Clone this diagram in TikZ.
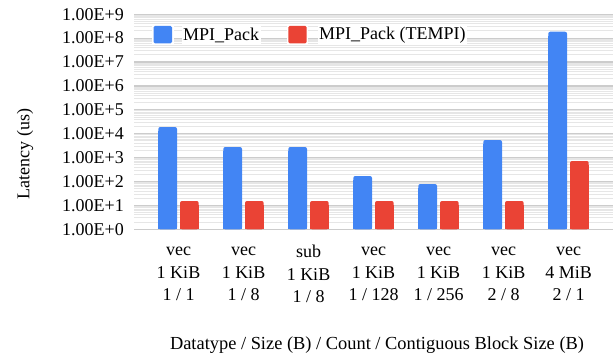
\documentclass[tikz,border=0pt]{standalone}
\usepackage{fontspec}
\setmainfont{Liberation Serif}
\definecolor{gblue}{HTML}{4285F4}
\definecolor{gred}{HTML}{EA4335}
\definecolor{majgrid}{HTML}{CCCCCC}
\definecolor{mingrid}{HTML}{E6E6E6}
\tikzset{
  lbl/.style={font=\fontsize{18bp}{22.5bp}\selectfont, inner sep=0pt},
  catlbl/.style={lbl, align=center},
  legtext/.style={lbl, anchor=west, fill=white, inner sep=1.5bp},
  majline/.style={draw=majgrid, line width=1.2bp},
  minline/.style={draw=mingrid, line width=0.9bp},
}
\begin{document}
\begin{tikzpicture}[x=1bp,y=-1bp]
\useasboundingbox (0,0) rectangle (616,360);
\def\base{229.3}
\def\dec{23.9}
% minor gridlines
\foreach \d in {0,...,8}{
  \foreach \m in {2,...,9}{
    \pgfmathsetmacro{\yy}{\base-\dec*(\d+log10(\m))}
    \draw[minline] (134,\yy) -- (613,\yy);
  }
}
% major gridlines and labels
\foreach \d in {0,...,9}{
  \pgfmathsetmacro{\yy}{\base-\dec*\d}
  \draw[majline] (134,\yy) -- (613,\yy);
  \node[lbl, anchor=east] (yl\d) at (124,\yy) {1.00E+\d};
}
% bars
\foreach \c/\bh/\rh [count=\i] in {178.5/102.3/28.3, 243.5/82.3/28.3, 308.5/82.3/28.3, 373.5/53.3/28.3, 438.5/45.3/28.3, 503.5/89.3/28.3, 568.5/197.6/68.3}{
  \fill[gblue, rounded corners=2bp] (\c-20.2,\base) rectangle (\c-1.5,\base-\bh);
  \fill[gblue] (\c-20.2,\base) rectangle (\c-1.5,\base-\bh+4);
  \fill[gred, rounded corners=2bp] (\c+1.5,\base) rectangle (\c+20.2,\base-\rh);
  \fill[gred] (\c+1.5,\base) rectangle (\c+20.2,\base-\rh+4);
}
% category labels
\node[catlbl] (c1) at (178.5,274) {vec\\1 KiB\\1 / 1};
\node[catlbl] (c2) at (243.5,274) {vec\\1 KiB\\1 / 8};
\node[catlbl] (c3) at (308.5,274) {sub\\1 KiB\\1 / 8};
\node[catlbl] (c4) at (373.5,274) {vec\\1 KiB\\1 / 128};
\node[catlbl] (c5) at (438.5,274) {vec\\1 KiB\\1 / 256};
\node[catlbl] (c6) at (503.5,274) {vec\\1 KiB\\2 / 8};
\node[catlbl] (c7) at (568.5,274) {vec\\4 MiB\\2 / 1};
% axis titles
\node[lbl, font=\fontsize{18.4bp}{22.5bp}\selectfont] (xt) at (377,345) {Datatype / Size (B) / Count / Contiguous Block Size (B)};
\node[lbl, rotate=90] (yt) at (25,154) {Latency (us)};
% legend
\fill[white] (152,24.3) rectangle (173.5,44.9);
\fill[gblue, rounded corners=1.5bp] (153.5,25.8) rectangle (172,43.4);
\node[legtext] (l1) at (181.5,35) {MPI\_Pack};
\fill[white] (286.8,24.3) rectangle (308.2,44.9);
\fill[gred, rounded corners=1.5bp] (288.3,25.8) rectangle (306.7,43.4);
\node[legtext] (l2) at (317.5,35) {MPI\_Pack (TEMPI)};
\end{tikzpicture}
\end{document}
